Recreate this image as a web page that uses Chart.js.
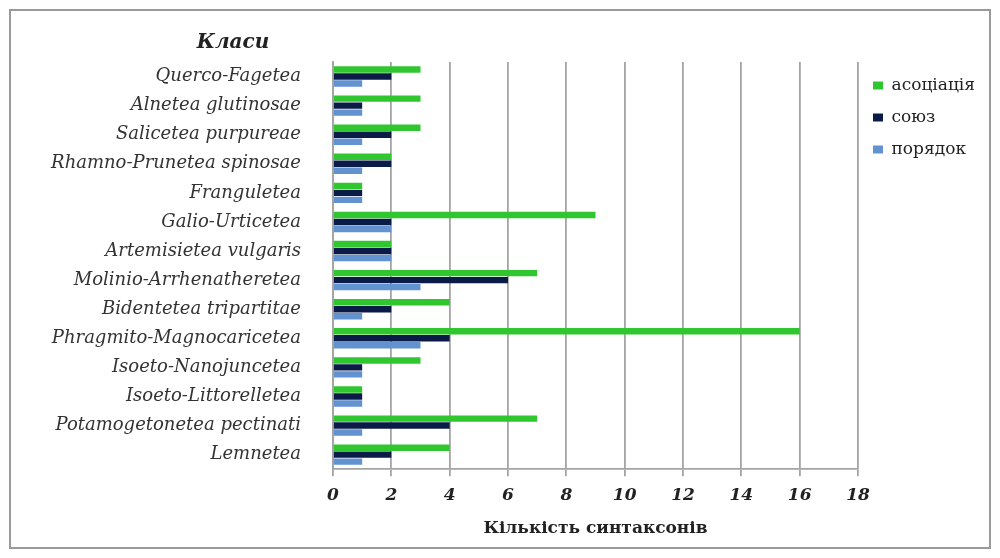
<!DOCTYPE html>
<html>
<head>
<meta charset="utf-8">
<script src="https://cdn.jsdelivr.net/npm/chart.js@4/dist/chart.umd.min.js"></script>
<style>
    body { margin: 0; background: #fff; }
    .frame {
        position: absolute; left: 9px; top: 9px;
        width: 978px; height: 536px;
        border: 2px solid #9a9a9a;
    }
    canvas { position: absolute; left: 0; top: 0; }
</style>
</head>
<body>
<div class="frame"><canvas id="sintaxChart" width="978" height="536"></canvas></div>
<script>
// Classes of vegetation (top to bottom)
const classes = [
    "Querco-Fagetea", "Alnetea glutinosae", "Salicetea purpureae",
    "Rhamno-Prunetea spinosae", "Franguletea", "Galio-Urticetea",
    "Artemisietea vulgaris", "Molinio-Arrhenatheretea", "Bidentetea tripartitae",
    "Phragmito-Magnocaricetea", "Isoeto-Nanojuncetea", "Isoeto-Littorelletea",
    "Potamogetonetea pectinati", "Lemnetea"
];
const asociatsia = [3, 3, 3, 2, 1, 9, 2, 7, 4, 16, 3, 1, 7, 4];
const soyuz      = [2, 1, 2, 2, 1, 2, 2, 6, 2, 4, 1, 1, 4, 2];
const poryadok   = [1, 1, 1, 1, 1, 2, 2, 3, 1, 3, 1, 1, 1, 1];
const xTicks = [0, 2, 4, 6, 8, 10, 12, 14, 16, 18];

const serif = "'DejaVu Serif', 'Liberation Serif', serif";

// "Класи" heading above the category labels
const headingPlugin = {
    id: 'heading',
    afterDraw(chart) {
        const c = chart.ctx;
        c.save();
        c.font = "bold italic 20px " + serif;
        c.fillStyle = "#222";
        c.textAlign = "center";
        c.textBaseline = "middle";
        c.fillText("Класи", chart.chartArea.left - 100, 32);
        c.restore();
    }
};

const ctx = document.getElementById("sintaxChart").getContext("2d");
new Chart(ctx, {
    type: "bar",
    data: {
        labels: classes,
        datasets: [
            { label: "асоціація", data: asociatsia, backgroundColor: "#30c630" },
            { label: "союз", data: soyuz, backgroundColor: "#0b1b48" },
            { label: "порядок", data: poryadok, backgroundColor: "#6292d0" }
        ]
    },
    options: {
        indexAxis: 'y',
        responsive: false,
        animation: false,
        categoryPercentage: 0.72,
        barPercentage: 0.92,
        layout: { padding: { top: 51, bottom: 4, left: 20, right: 4 } },
        plugins: {
            legend: {
                position: 'right',
                align: 'start',
                labels: {
                    boxWidth: 10,
                    boxHeight: 8,
                    padding: 15,
                    color: "#222",
                    font: { family: serif, size: 17 }
                }
            },
            tooltip: { enabled: false }
        },
        scales: {
            x: {
                min: 0,
                max: 18,
                afterBuildTicks: axis => { axis.ticks = xTicks.map(v => ({ value: v })); },
                grid: { color: "#a4a4a4", lineWidth: 1.8, tickLength: 7 },
                border: { color: "#a4a4a4", width: 1.8 },
                ticks: {
                    color: "#222",
                    padding: 9,
                    font: { family: serif, size: 17, style: 'italic', weight: 'bold' }
                },
                title: {
                    display: true,
                    text: "Кількість синтаксонів",
                    color: "#222",
                    padding: { top: 4 },
                    font: { family: serif, size: 17, weight: 'bold' }
                }
            },
            y: {
                afterFit: axis => { axis.width = 302; },
                grid: { display: false },
                border: { color: "#a4a4a4", width: 1.8 },
                ticks: {
                    color: "#333",
                    padding: 24,
                    font: { family: serif, size: 18, style: 'italic' }
                }
            }
        }
    },
    plugins: [headingPlugin]
});
</script>
</body>
</html>
